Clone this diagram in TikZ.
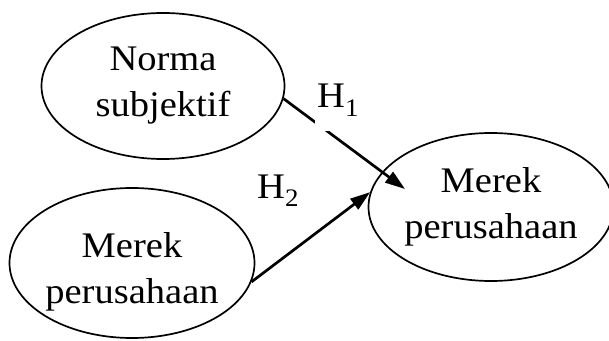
\documentclass[tikz,border=0pt]{standalone}
\usepackage{fontspec}
\setmainfont{Liberation Serif}[FakeStretch=1.07]
\usetikzlibrary{shapes.geometric,arrows.meta}
\tikzset{
  construct/.style={ellipse, draw=black, line width=1.7pt, inner sep=0pt,
    align=center, font=\fontsize{36}{46}\selectfont},
  path arrow/.style={line width=2.7pt, -{Triangle[length=20pt,width=13pt]}},
  hyp/.style={fill=white, inner sep=2pt, text depth=21pt, anchor=base west,
    font=\fontsize{36}{40}\selectfont},
}
\begin{document}
\begin{tikzpicture}[x=1pt,y=1pt]
\useasboundingbox (0,0) rectangle (609,340);
% constructs
\node[construct, minimum width=243pt, minimum height=146pt] (ns) at (163,254) {Norma\\subjektif};
\node[construct, minimum width=244pt, minimum height=150pt, text height=88pt] (mb) at (132,77) {Merek\\perusahaan};
\node[construct, minimum width=234pt, minimum height=148pt] (mr) at (491,133) {Merek\\perusahaan};
% paths
\coordinate (h1end) at (405,151);
\draw[path arrow] (ns.-6) -- (h1end);
\draw[path arrow] (mb.-9) -- (mr.173);
% hypothesis labels
\node[hyp] (h1) at (315,232) {H\textsubscript{1}};
\node[hyp] (h2) at (255,142) {H\textsubscript{2}};
\end{tikzpicture}
\end{document}
